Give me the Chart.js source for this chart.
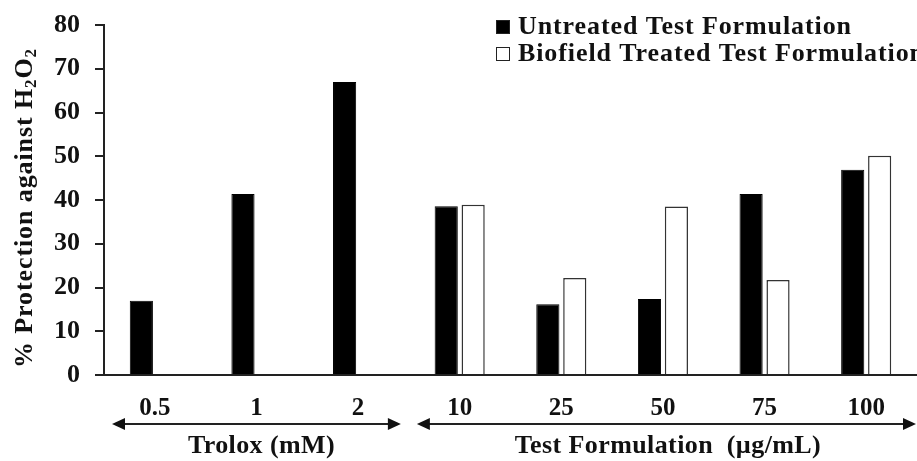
<!DOCTYPE html>
<html>
<head>
<meta charset="utf-8">
<script src="https://cdn.jsdelivr.net/npm/chart.js@4.4.0/dist/chart.umd.min.js"></script>
<style>
  html, body { margin: 0; padding: 0; background: #fff; }
  #wrap { width: 917px; height: 461px; position: relative; }
</style>
</head>
<body>
<div id="wrap"><canvas id="protectionChart"></canvas></div>
<script>
// values
const categories = ['0.5', '1', '2', '10', '25', '50', '75', '100'];
const untreatedValues = [17.0, 41.4, 67.0, 38.6, 16.2, 17.4, 41.4, 46.9];
const treatedValues = [null, null, null, 38.9, 22.2, 38.5, 21.7, 50.1];
const seriesNames = ['Untreated Test Formulation', 'Biofield Treated Test Formulation'];
const yTickValues = [0, 10, 20, 30, 40, 50, 60, 70, 80];
const groupNames = ['Trolox (mM)', 'Test Formulation  (\u00b5g/mL)'];
const groupStart = [0, 3];
const groupEnd = [2, 7];

const FONT = '"Liberation Serif", "Times New Roman", serif';
const INK = '#111';

// legend in the top right corner
const legendBox = {
  id: 'legendBox',
  afterDraw(chart) {
    const ctx = chart.ctx;
    ctx.save();
    ctx.font = 'bold 26px ' + FONT;
    ctx.letterSpacing = '0.9px';
    ctx.textBaseline = 'middle';
    chart.data.datasets.forEach((ds, i) => {
      const y = 27 + i * 27;
      ctx.fillStyle = ds.backgroundColor;
      ctx.fillRect(496, y - 7, 14, 14);
      ctx.strokeStyle = '#222';
      ctx.lineWidth = 1;
      ctx.strokeRect(496.5, y - 6.5, 13, 13);
      ctx.fillStyle = INK;
      ctx.fillText(ds.label, 518, y);
    });
    ctx.restore();
  }
};

// rotated y title with subscripts
const yTitle = {
  id: 'yTitle',
  afterDraw(chart) {
    const ctx = chart.ctx;
    const parts = [['% Protection against H', 26, 0], ['2', 17, 7], ['O', 26, 0], ['2', 17, 7]];
    ctx.save();
    ctx.translate(25, 208);
    ctx.rotate(-Math.PI / 2);
    ctx.letterSpacing = '0.9px';
    ctx.textBaseline = 'middle';
    ctx.fillStyle = INK;
    let total = 0;
    parts.forEach(p => { ctx.font = 'bold ' + p[1] + 'px ' + FONT; total += ctx.measureText(p[0]).width; });
    let x = -total / 2;
    parts.forEach(p => {
      ctx.font = 'bold ' + p[1] + 'px ' + FONT;
      ctx.fillText(p[0], x, p[2]);
      x += ctx.measureText(p[0]).width;
    });
    ctx.restore();
  }
};

// double arrows and group names under the x axis
function arrowHead(ctx, x, y, dir) {
  ctx.beginPath();
  ctx.moveTo(x, y);
  ctx.lineTo(x - dir * 13, y - 6);
  ctx.lineTo(x - dir * 13, y + 6);
  ctx.closePath();
  ctx.fill();
}

const groupArrows = {
  id: 'groupArrows',
  afterDraw(chart) {
    const ctx = chart.ctx;
    const xs = chart.scales.x;
    const half = (xs.getPixelForValue(1) - xs.getPixelForValue(0)) / 2;
    ctx.save();
    ctx.strokeStyle = '#222';
    ctx.fillStyle = '#111';
    ctx.lineWidth = 2;
    groupNames.forEach((name, g) => {
      const x1 = xs.getPixelForValue(groupStart[g]) - half + 8;
      let x2 = xs.getPixelForValue(groupEnd[g]) + half - 8;
      // the last arrow runs to the edge of the picture
      if (groupEnd[g] === categories.length - 1) x2 = chart.chartArea.right - 1;
      const y = 424;
      ctx.beginPath();
      ctx.moveTo(x1 + 4, y);
      ctx.lineTo(x2 - 4, y);
      ctx.stroke();
      arrowHead(ctx, x1, y, -1);
      arrowHead(ctx, x2, y, 1);
      ctx.font = 'bold 26px ' + FONT;
      ctx.letterSpacing = '0.4px';
      ctx.textAlign = 'center';
      ctx.textBaseline = 'middle';
      const mid = (xs.getPixelForValue(groupStart[g]) + xs.getPixelForValue(groupEnd[g])) / 2;
      ctx.fillText(name, mid + 5, 446);
    });
    ctx.restore();
  }
};

const ctx = document.getElementById('protectionChart').getContext('2d');

const protectionChart = new Chart(ctx, {
  type: 'bar',
  data: {
    labels: categories,
    datasets: [{
      label: seriesNames[0],
      data: untreatedValues,
      backgroundColor: '#000',
      borderColor: '#000',
      borderWidth: 1
    }, {
      label: seriesNames[1],
      data: treatedValues,
      backgroundColor: '#fff',
      borderColor: '#333',
      borderWidth: 1.5
    }]
  },
  options: {
    responsive: true,
    maintainAspectRatio: false,
    animation: false,
    categoryPercentage: 0.53,
    barPercentage: 0.86,
    layout: { padding: { top: 25, right: 0, left: 0, bottom: 0 } },
    scales: {
      x: {
        grid: { display: false },
        border: { display: true, color: '#222', width: 2 },
        ticks: {
          color: INK,
          font: { family: FONT, size: 25, weight: 'bold' },
          padding: 11,
          maxRotation: 0
        },
        afterFit: s => { s.height = 86; s.paddingLeft = 0; s.paddingRight = 0; }
      },
      y: {
        min: 0,
        max: 80,
        afterBuildTicks: s => { s.ticks = yTickValues.map(v => ({ value: v })); },
        grid: { drawOnChartArea: false, drawTicks: true, tickLength: 9, color: '#222', lineWidth: 2 },
        border: { display: true, color: '#222', width: 2 },
        ticks: {
          color: INK,
          font: { family: FONT, size: 26, weight: 'bold' },
          padding: 15
        },
        afterFit: s => { s.width = 104; s.paddingTop = 0; s.paddingBottom = 0; }
      }
    },
    plugins: {
      legend: { display: false },
      tooltip: { enabled: false }
    }
  },
  plugins: [legendBox, yTitle, groupArrows]
});
</script>
</body>
</html>
